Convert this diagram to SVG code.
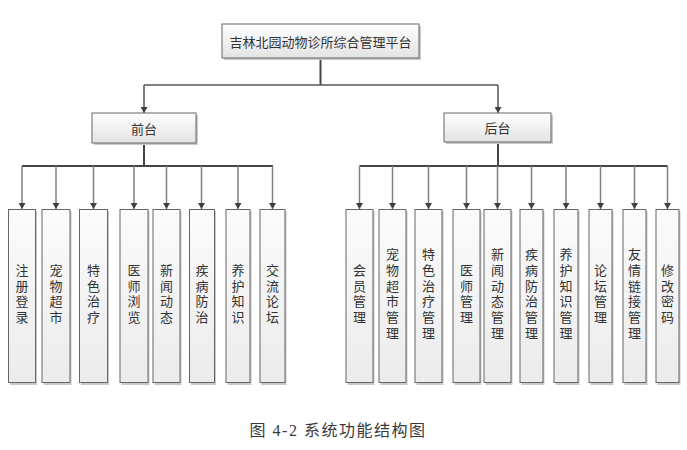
<svg xmlns="http://www.w3.org/2000/svg" width="687" height="450" viewBox="0 0 687 450">
<defs>
  <linearGradient id="gShort" x1="0" y1="0" x2="0" y2="1">
    <stop offset="0" stop-color="#ffffff"/>
    <stop offset="1" stop-color="#e3e3e3"/>
  </linearGradient>
  <linearGradient id="gTall" x1="0" y1="0" x2="0" y2="1">
    <stop offset="0" stop-color="#fbfbfb"/>
    <stop offset="1" stop-color="#ebebeb"/>
  </linearGradient>
  <marker id="arr" viewBox="0 0 6 7" refX="6" refY="3.5" markerWidth="6" markerHeight="7" markerUnits="userSpaceOnUse" orient="auto">
    <path d="M0,0 L6,3.5 L0,7 z" fill="#3f3f3f"/>
  </marker>
  <style>
    .shadow { fill: #c9c9c9; }
    .box { stroke: #666666; stroke-width: 1; }
    .short { fill: url(#gShort); }
    .tall { fill: url(#gTall); }
    .lbl { font-family: "Noto Sans CJK SC", "Microsoft YaHei", sans-serif; font-size: 13px; fill: #333333; text-anchor: middle; dominant-baseline: central; }
    .vl { font-family: "Noto Sans CJK SC", "Microsoft YaHei", sans-serif; font-size: 13px; fill: #333333; text-anchor: middle; writing-mode: vertical-rl; letter-spacing: 2.7px; }
    .trunk { fill: none; stroke: #454545; stroke-width: 2; }
    .main { fill: none; stroke: #555555; stroke-width: 1.5; }
    .branch { fill: none; stroke: #808080; stroke-width: 1.5; marker-end: url(#arr); }
    .cap { font-family: "Liberation Serif", "Noto Sans CJK SC", serif; font-size: 16px; letter-spacing: 1.5px; fill: #3a3a3a; text-anchor: middle; }
  </style>
</defs>
<rect width="687" height="450" fill="#ffffff"/>

<g id="connectors">
  <path class="trunk" d="M320.5,58 V85"/>
  <path class="main" d="M144,85 H498"/>
  <path class="branch" style="stroke:#555555" d="M144,85 V113"/>
  <path class="branch" style="stroke:#555555" d="M498,85 V113"/>

  <path class="trunk" d="M144,143 V166 M22,166 H273"/>
  <path class="branch" d="M22,166 V209"/>
  <path class="branch" d="M56,166 V209"/>
  <path class="branch" d="M93.5,166 V209"/>
  <path class="branch" d="M134,166 V209"/>
  <path class="branch" d="M166.5,166 V209"/>
  <path class="branch" d="M201.5,166 V209"/>
  <path class="branch" d="M238,166 V209"/>
  <path class="branch" d="M272.5,166 V209"/>

  <path class="trunk" d="M498,142 V166 M359.5,166 H667.5"/>
  <path class="branch" d="M359.5,166 V209"/>
  <path class="branch" d="M392.5,166 V209"/>
  <path class="branch" d="M428.5,166 V209"/>
  <path class="branch" d="M466.5,166 V209"/>
  <path class="branch" d="M497.5,166 V209"/>
  <path class="branch" d="M531.5,166 V209"/>
  <path class="branch" d="M566,166 V209"/>
  <path class="branch" d="M600.5,166 V209"/>
  <path class="branch" d="M634.5,166 V209"/>
  <path class="branch" d="M667.5,166 V209"/>
</g>

<g id="root">
  <rect class="shadow" x="224" y="26" width="197" height="34"/>
  <rect class="box short" x="222" y="24" width="197" height="34"/>
  <text class="lbl" x="320.5" y="41">吉林北园动物诊所综合管理平台</text>
</g>

<g id="qiantai">
  <rect class="shadow" x="94" y="115" width="104" height="30"/>
  <rect class="box short" x="92" y="113" width="104" height="30"/>
  <text class="lbl" x="144" y="128">前台</text>
</g>

<g id="houtai">
  <rect class="shadow" x="446" y="115" width="107" height="29"/>
  <rect class="box short" x="444" y="113" width="107" height="29"/>
  <text class="lbl" x="497.5" y="127.5">后台</text>
</g>

<!-- front-end children -->
<g id="f1">
  <rect class="shadow" x="10" y="211" width="27" height="174"/>
  <rect class="box tall" x="8.5" y="209.5" width="27" height="173"/>
  <text class="vl" x="22" y="295">注册登录</text>
</g>
<g id="f2">
  <rect class="shadow" x="43.5" y="211" width="28" height="174"/>
  <rect class="box tall" x="42" y="209.5" width="28" height="173"/>
  <text class="vl" x="56" y="295">宠物超市</text>
</g>
<g id="f3">
  <rect class="shadow" x="81" y="211" width="28" height="174"/>
  <rect class="box tall" x="79.5" y="209.5" width="28" height="173"/>
  <text class="vl" x="93.5" y="295">特色治疗</text>
</g>
<g id="f4">
  <rect class="shadow" x="121.5" y="211" width="28" height="174"/>
  <rect class="box tall" x="120" y="209.5" width="28" height="173"/>
  <text class="vl" x="134" y="295">医师浏览</text>
</g>
<g id="f5">
  <rect class="shadow" x="154.5" y="211" width="27" height="174"/>
  <rect class="box tall" x="153" y="209.5" width="27" height="173"/>
  <text class="vl" x="166.5" y="295">新闻动态</text>
</g>
<g id="f6">
  <rect class="shadow" x="191" y="211" width="25" height="174"/>
  <rect class="box tall" x="189.5" y="209.5" width="25" height="173"/>
  <text class="vl" x="202" y="295">疾病防治</text>
</g>
<g id="f7">
  <rect class="shadow" x="227.5" y="211" width="24" height="174"/>
  <rect class="box tall" x="226" y="209.5" width="24" height="173"/>
  <text class="vl" x="238" y="295">养护知识</text>
</g>
<g id="f8">
  <rect class="shadow" x="261.5" y="211" width="25" height="174"/>
  <rect class="box tall" x="260" y="209.5" width="25" height="173"/>
  <text class="vl" x="272.5" y="295">交流论坛</text>
</g>

<!-- back-end children -->
<g id="b1">
  <rect class="shadow" x="347.5" y="211" width="27" height="174"/>
  <rect class="box tall" x="346" y="209.5" width="27" height="173"/>
  <text class="vl" x="359.5" y="295">会员管理</text>
</g>
<g id="b2">
  <rect class="shadow" x="380.5" y="211" width="27" height="174"/>
  <rect class="box tall" x="379" y="209.5" width="27" height="173"/>
  <text class="vl" x="392.5" y="295">宠物超市管理</text>
</g>
<g id="b3">
  <rect class="shadow" x="416.5" y="211" width="27" height="174"/>
  <rect class="box tall" x="415" y="209.5" width="27" height="173"/>
  <text class="vl" x="428.5" y="295">特色治疗管理</text>
</g>
<g id="b4">
  <rect class="shadow" x="454.5" y="211" width="27" height="174"/>
  <rect class="box tall" x="453" y="209.5" width="27" height="173"/>
  <text class="vl" x="466.5" y="295">医师管理</text>
</g>
<g id="b5">
  <rect class="shadow" x="485.5" y="211" width="27" height="174"/>
  <rect class="box tall" x="484" y="209.5" width="27" height="173"/>
  <text class="vl" x="497.5" y="295">新闻动态管理</text>
</g>
<g id="b6">
  <rect class="shadow" x="521.5" y="211" width="23" height="174"/>
  <rect class="box tall" x="520" y="209.5" width="23" height="173"/>
  <text class="vl" x="531.5" y="295">疾病防治管理</text>
</g>
<g id="b7">
  <rect class="shadow" x="555.5" y="211" width="24" height="174"/>
  <rect class="box tall" x="554" y="209.5" width="24" height="173"/>
  <text class="vl" x="566" y="295">养护知识管理</text>
</g>
<g id="b8">
  <rect class="shadow" x="590.5" y="211" width="23" height="174"/>
  <rect class="box tall" x="589" y="209.5" width="23" height="173"/>
  <text class="vl" x="600.5" y="295">论坛管理</text>
</g>
<g id="b9">
  <rect class="shadow" x="624.5" y="211" width="23" height="174"/>
  <rect class="box tall" x="623" y="209.5" width="23" height="173"/>
  <text class="vl" x="634.5" y="295">友情链接管理</text>
</g>
<g id="b10">
  <rect class="shadow" x="657.5" y="211" width="23" height="174"/>
  <rect class="box tall" x="656" y="209.5" width="23" height="173"/>
  <text class="vl" x="667.5" y="295">修改密码</text>
</g>

<text class="cap" x="338" y="436">图 4-2 系统功能结构图</text>
</svg>
